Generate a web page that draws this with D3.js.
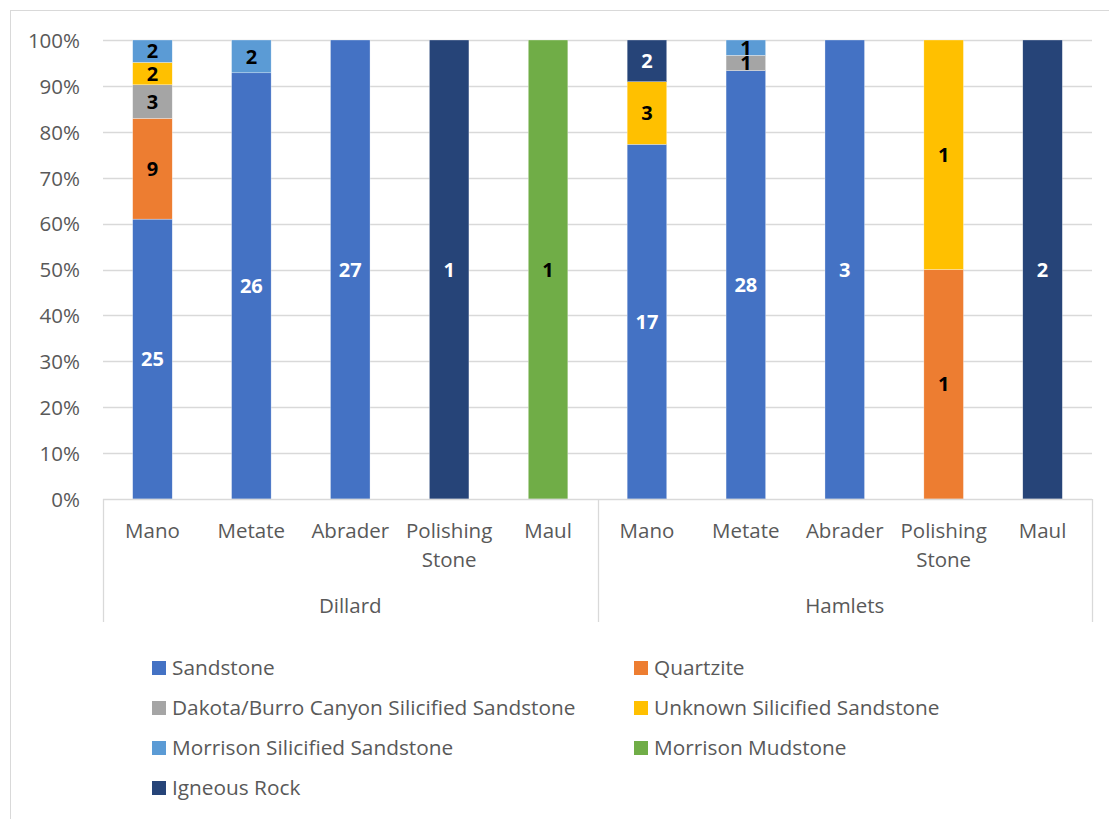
<!DOCTYPE html>
<html><head><meta charset="utf-8">
<script src="https://cdn.jsdelivr.net/npm/d3@7"></script>
<style>body{margin:0;background:#fff;} text{font-family:"Open Sans","Noto Sans",sans-serif;}</style>
</head><body>
<svg id="c" width="1109" height="819"></svg>
<script>
const groups = ["Dillard","Hamlets"];
const tools = ["Mano","Metate","Abrader","Polishing Stone","Maul"];
const series = ["Sandstone","Quartzite","Dakota/Burro Canyon Silicified Sandstone","Unknown Silicified Sandstone","Morrison Silicified Sandstone","Morrison Mudstone","Igneous Rock"];
const colors = ["#4472C4","#ED7D31","#A5A5A5","#FFC000","#5B9BD5","#70AD47","#264478"];
const labelColors = ["#fff","#000","#000","#000","#000","#000","#fff"];
// counts per series, order: Dillard (Mano, Metate, Abrader, Polishing Stone, Maul), Hamlets (same)
const sandstone   = [25,26,27,0,0, 17,28,3,0,0];
const quartzite   = [9,0,0,0,0,    0,0,0,1,0];
const dakota      = [3,0,0,0,0,    0,1,0,0,0];
const unknownSS   = [2,0,0,0,0,    3,0,0,1,0];
const morrisonSS  = [2,2,0,0,0,    0,1,0,0,0];
const morrisonMud = [0,0,0,0,1,    0,0,0,0,0];
const igneous     = [0,0,0,1,0,    2,0,0,0,2];
const yTicks = [0,0.1,0.2,0.3,0.4,0.5,0.6,0.7,0.8,0.9,1.0];

const values = [sandstone,quartzite,dakota,unknownSS,morrisonSS,morrisonMud,igneous];
const cats = [];
groups.forEach(g=>tools.forEach(t=>cats.push({g,t,key:g+"|"+t})));
const rows = cats.map((c,i)=>{
  const r = {key:c.key};
  const tot = d3.sum(values,v=>v[i]);
  series.forEach((s,j)=>{ r[s] = values[j][i]/tot; r["n_"+s]=values[j][i]; });
  return r;
});

const svg = d3.select("#c");
svg.append("rect").attr("x",10.5).attr("y",10.5).attr("width",1200).attr("height",1000)
  .attr("fill","#fff").attr("stroke","#d9d9d9").attr("stroke-width",1);

const L=103, R=1092, T=40, B=499;
const x = d3.scaleBand().domain(cats.map(c=>c.key)).range([L,R]).paddingInner(0.6).paddingOuter(0.3);
const y = d3.scaleLinear().domain([0,1]).range([B,T]);

// gridlines
svg.append("g").selectAll("line").data(yTicks.slice(1)).join("line")
  .attr("x1",L).attr("x2",R).attr("y1",d=>Math.round(y(d))+0.5).attr("y2",d=>Math.round(y(d))+0.5)
  .attr("stroke","#d9d9d9").attr("stroke-width",1.3);

// y axis labels
const yAxis = d3.axisLeft(y).tickValues(yTicks).tickFormat(d3.format(".0%")).tickSize(0).tickPadding(23);
const ya = svg.append("g").attr("transform",`translate(${L},0)`).call(yAxis);
ya.select(".domain").remove();
ya.selectAll("text").attr("font-size",20.5).attr("fill","#595959").attr("font-family","Open Sans").attr("dy","0.36em");

// stacks
const stack = d3.stack().keys(series)(rows);
const lay = svg.append("g");
stack.forEach((layer,j)=>{
  lay.append("g").selectAll("rect").data(layer.filter(d=>d[1]-d[0]>0)).join("rect")
    .attr("x",d=>x(d.data.key)).attr("width",x.bandwidth())
    .attr("y",d=>y(d[1])).attr("height",d=>y(d[0])-y(d[1]))
    .attr("fill",colors[j]).attr("stroke","#fff").attr("stroke-width",0.5).attr("stroke-opacity",0.6);
});
stack.forEach((layer,j)=>{
  lay.append("g").selectAll("text").data(layer.filter(d=>d[1]-d[0]>0)).join("text")
    .attr("x",d=>x(d.data.key)+x.bandwidth()/2).attr("y",d=>(y(d[0])+y(d[1]))/2)
    .attr("dy","0.36em").attr("text-anchor","middle")
    .attr("font-size",20).attr("font-weight","bold").attr("fill",labelColors[j])
    .text(d=>d.data["n_"+series[j]]);
});

// x axis
svg.append("line").attr("x1",L).attr("x2",R).attr("y1",B+0.5).attr("y2",B+0.5).attr("stroke","#d9d9d9").attr("stroke-width",1.3);
const sepBottom = 622;
const mid = (x(cats[4].key)+x.bandwidth()+x(cats[5].key))/2;
[L, mid, R].forEach(xx=>{
  svg.append("line").attr("x1",Math.round(xx)+0.5).attr("x2",Math.round(xx)+0.5).attr("y1",B).attr("y2",sepBottom)
    .attr("stroke","#d9d9d9").attr("stroke-width",1.3);
});
cats.forEach(c=>{
  const cx = x(c.key)+x.bandwidth()/2;
  const parts = c.t.split(" ");
  const t = svg.append("text").attr("x",cx).attr("y",538).attr("text-anchor","middle")
    .attr("font-size",20.5).attr("fill","#595959");
  parts.forEach((p,i)=>t.append("tspan").attr("x",cx).attr("dy",i?29:0).text(p));
});
groups.forEach((g,i)=>{
  const cx = i===0 ? (L+mid)/2 : (mid+R)/2;
  svg.append("text").attr("x",cx).attr("y",613).attr("text-anchor","middle")
    .attr("font-size",20.5).attr("fill","#595959").text(g);
});

// legend
const legX = [152,634], legY0 = 668, legDy = 40;
series.forEach((s,i)=>{
  const col = i%2, row = Math.floor(i/2);
  const gx = legX[col], gy = legY0+row*legDy;
  svg.append("rect").attr("x",gx).attr("y",gy-7).attr("width",14).attr("height",14).attr("fill",colors[i]);
  svg.append("text").attr("x",gx+20).attr("y",gy).attr("dy","0.36em")
    .attr("font-size",20.8).attr("fill","#595959").text(s);
});
</script>
</body></html>
